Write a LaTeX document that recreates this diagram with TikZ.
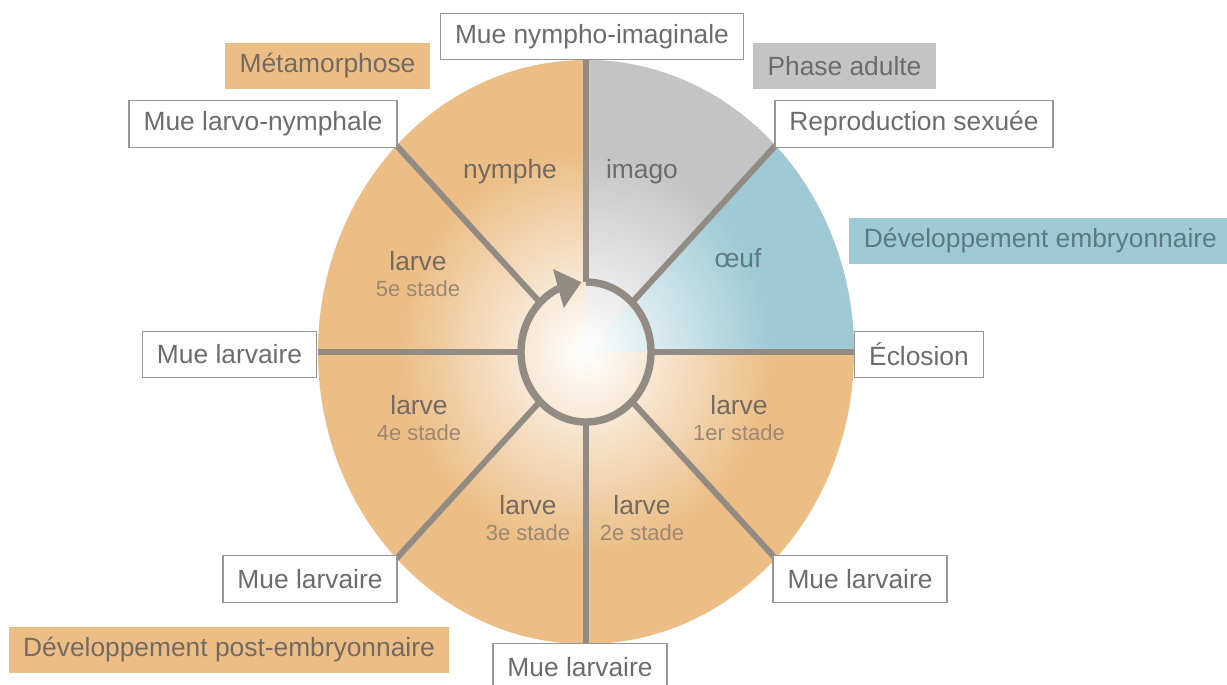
\documentclass[tikz,border=0pt]{standalone}
\usepackage{fontspec}
\setmainfont{Liberation Sans}
\usepackage{tikz}
\usetikzlibrary{arrows.meta,bending,fadings,positioning}

\definecolor{larvaorange}{RGB}{236,190,134}
\definecolor{adultgray}{RGB}{196,196,196}
\definecolor{eggblue}{RGB}{158,202,213}
\definecolor{rimgray}{RGB}{145,139,132}
\definecolor{textgray}{RGB}{108,108,108}
\definecolor{larvetext}{RGB}{116,106,96}
\definecolor{stadebrown}{RGB}{156,136,116}
\definecolor{eggtext}{RGB}{92,122,132}
\definecolor{boxline}{RGB}{150,150,150}

\tikzfading[name=centerglow, inner color=transparent!0, outer color=transparent!100]

\begin{document}
\begin{tikzpicture}[x=0.02cm,y=0.02cm,
  lab/.style={font=\fontsize{15}{18}\selectfont, text=textgray, inner xsep=0.29cm, minimum height=0.93cm},
  muebox/.style={lab, draw=boxline, line width=0.8pt, fill=white},
  phasebox/.style={lab, fill=#1},
  sectorlab/.style={font=\fontsize{15}{15}\selectfont, text=#1, align=center, inner sep=0pt},
  divider/.style={rimgray, line width=3.4pt}]
\useasboundingbox (-586,-332) rectangle (641,352);
\fill[larvaorange] (0,0) ellipse[x radius=268, y radius=292];
\fill[adultgray] (0,0) -- (45:268 and 292) arc[start angle=45, end angle=90, x radius=268, y radius=292] -- cycle;
\fill[eggblue] (0,0) -- (0:268 and 292) arc[start angle=0, end angle=45, x radius=268, y radius=292] -- cycle;
\fill[white, path fading=centerglow] (0,0) ellipse[x radius=185, y radius=200];
\foreach \a in {0,45,...,315}
  \draw[divider] (\a:65 and 70) -- (\a:268 and 292);
\draw[divider, line width=4.2pt, -{Triangle[length=0.48cm, width=0.78cm]}] (90:65 and 70) arc[start angle=90, end angle=-266, x radius=65, y radius=70];
\node[sectorlab=larvetext] (nymphe) at (-76,180) {nymphe};
\node[sectorlab=textgray] (imago) at (56,180) {imago};
\node[sectorlab=eggtext] (oeuf) at (152,94) {œuf};
\foreach \n/\x/\y/\s in {l1/153/-66/1er, l2/56/-166/2e, l3/-58/-166/3e, l4/-167/-66/4e, l5/-168/78/5e}
  \node[sectorlab=larvetext] (\n) at (\x,\y) {larve\\{\fontsize{12.5}{15}\selectfont\color{stadebrown}\s\ stade}};
\node[muebox] (mni) at (6,315.5) {Mue nympho-imaginale};
\node[phasebox=larvaorange, text=larvetext] (meta) at (-258.5,286) {Métamorphose};
\node[phasebox=adultgray] (adult) at (258.5,286) {Phase adulte};
\node[muebox] (mln) at (-323,228) {Mue larvo-nymphale};
\node[muebox] (repro) at (328,228) {Reproduction sexuée};
\node[phasebox=eggblue, text=eggtext, anchor=west] (embryo) at (263,111) {Développement embryonnaire};
\node[muebox] (eclo) at (333,-2.5) {Éclosion};
\node[muebox] (ml180) at (-356.5,-2.5) {Mue larvaire};
\node[muebox] (ml225) at (-276,-227) {Mue larvaire};
\node[muebox] (ml315) at (274,-227) {Mue larvaire};
\node[muebox, anchor=north] (ml270) at (-6,-291) {Mue larvaire};
\node[phasebox=larvaorange, text=larvetext] (post) at (-357,-298) {Développement post-embryonnaire};
\end{tikzpicture}
\end{document}
